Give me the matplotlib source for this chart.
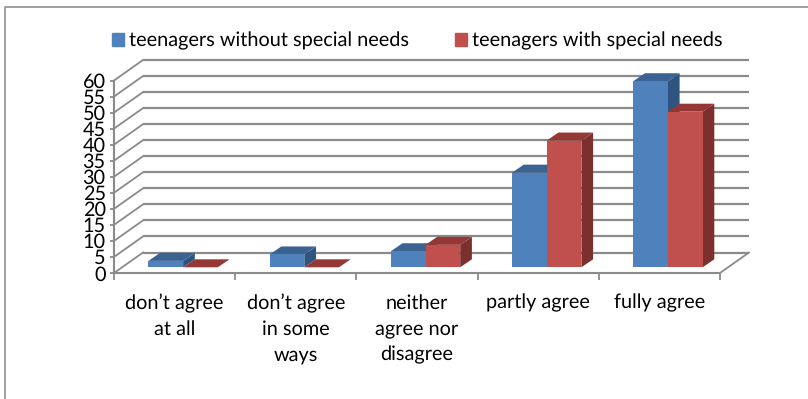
import numpy as np
import matplotlib
matplotlib.use("Agg")
import matplotlib.pyplot as plt
from matplotlib.lines import Line2D
from matplotlib.patches import Patch

plt.rcParams['font.family'] = ['Lato', 'DejaVu Sans']
plt.rcParams['text.hinting'] = 'none'

categories = ["don\u2019t agree\nat all", "don\u2019t agree\nin some\nways",
              "neither\nagree nor\ndisagree", "partly agree", "fully agree"]
without_needs = [2, 4, 5, 29.5, 58]
with_needs = [0, 0, 7, 39.5, 48.5]
series_names = ["teenagers without special needs", "teenagers with special needs"]
y_ticks = [0, 5, 10, 15, 20, 25, 30, 35, 40, 45, 50, 55, 60]

W, H = 808, 399
GREY = "#8a8a8a"
FS = 14.3

fig = plt.figure(figsize=(W / 100, H / 100), dpi=100)
ax = fig.add_axes([114 / W, (H - 273) / H, 606 / W, 192.5 / H])
ax.set_xlim(0, 5)
ax.set_ylim(0, 60)

# pixel sizes of the fake 3d depth, turned into data units
px_x = 5 / 606
px_y = 60 / 192.5
wall_dx, wall_dy = 29 * px_x, 20.5 * px_y
bar_off_x, bar_off_y = 8.5 * px_x, 5.7 * px_y
depth_x, depth_y = 11.7 * px_x, 8 * px_y
bar_w = 34.7 * px_x


def draw_bars(xs, vals, front, top, side, z):
    for x, v in zip(xs, vals):
        x0, x1 = x + bar_off_x, x + bar_off_x + bar_w
        y0, y1 = bar_off_y, bar_off_y + v
        ax.fill([x1, x1 + depth_x, x1 + depth_x, x1], [y0, y0 + depth_y, y1 + depth_y, y1],
                color=side, lw=0, zorder=z, clip_on=False)
        ax.fill([x0, x1, x1 + depth_x, x0 + depth_x], [y1, y1, y1 + depth_y, y1 + depth_y],
                color=top, lw=0, zorder=z, clip_on=False)
    ax.bar(np.array(xs) + bar_off_x, vals, bar_w, bottom=bar_off_y, align="edge",
           color=front, zorder=z + 0.5, clip_on=False)


# back wall and left wall lines
for y in y_ticks:
    ax.plot([wall_dx, 5 + wall_dx], [y + wall_dy, y + wall_dy], color=GREY, lw=1.6,
            zorder=1, clip_on=False, solid_capstyle="butt")
    ax.plot([0, wall_dx], [y, y + wall_dy], color=GREY, lw=1.3, zorder=1, clip_on=False)
ax.plot([5, 5 + wall_dx], [0, wall_dy], color=GREY, lw=1.3, zorder=1, clip_on=False)

centers = np.arange(5) + 0.5
draw_bars(centers - bar_w, without_needs, "#4f81bd", "#3a6391", "#2f5480", 3)
draw_bars(centers, with_needs, "#c0504d", "#953735", "#7b302e", 4)

for s in ["top", "right"]:
    ax.spines[s].set_visible(False)
for s in ["left", "bottom"]:
    ax.spines[s].set_color(GREY)
    ax.spines[s].set_linewidth(1.5)

ax.set_yticks(y_ticks)
ax.set_xticks(np.arange(6))
ax.set_xticklabels([])
ax.set_xticks(centers, categories, minor=True)
ax.tick_params(axis="x", which="major", length=5, width=1.3, color=GREY)
ax.tick_params(axis="x", which="minor", length=0, pad=15, labelsize=FS)
ax.tick_params(axis="y", length=3, width=1.3, color=GREY, pad=3, labelsize=FS)
for lab in ax.get_xticklabels(minor=True):
    lab.set_linespacing(1.5)
    lab.set_verticalalignment("top")

handles = [Patch(color="#4f81bd"), Patch(color="#c0504d")]
fig.legend(handles, series_names, ncol=2, loc="center", bbox_to_anchor=(417.5 / W, (H - 41) / H),
           frameon=False, fontsize=FS, handlelength=0.6, handleheight=0.6,
           handletextpad=0.25, columnspacing=2.3, borderpad=0)

# chart frame, only top and left edges are visible
fig.add_artist(Line2D([5 / W, 5 / W, 1], [0, (H - 6.5) / H, (H - 6.5) / H],
                      transform=fig.transFigure, color="#868686", lw=1.1))

fig.savefig("out.png", dpi=100)
